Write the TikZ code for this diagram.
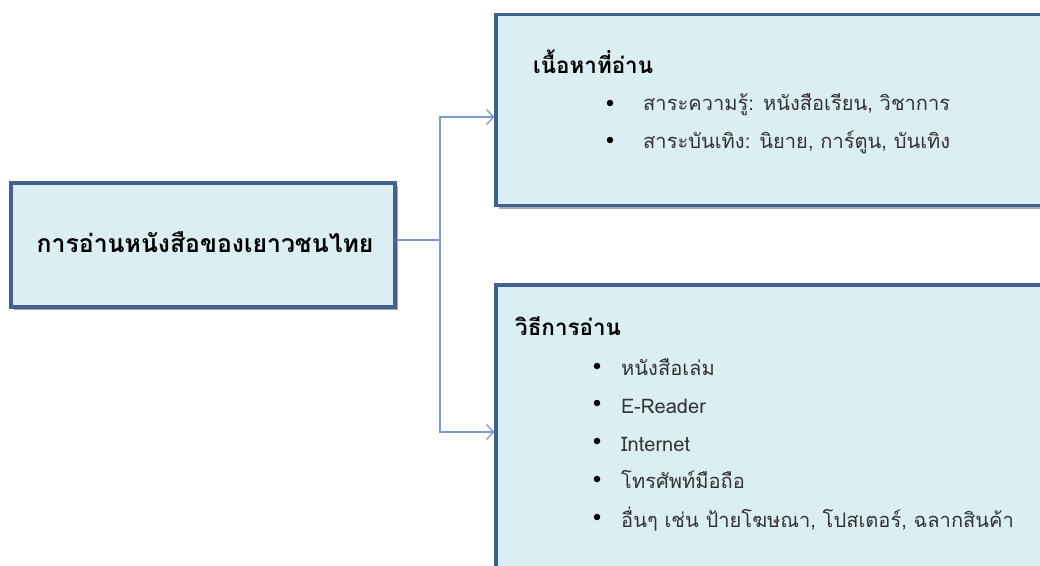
\documentclass[tikz,border=0pt]{standalone}
\usepackage{fontspec}
\setmainfont[Script=Thai]{Loma}
\usetikzlibrary{shadows,arrows.meta}
\definecolor{boxfill}{HTML}{DBEEF4}
\definecolor{boxline}{HTML}{41628F}
\definecolor{conncol}{HTML}{7A9CCB}
\definecolor{itemcol}{HTML}{333333}
\tikzset{
  panel/.style={draw=boxline, line width=3.2pt, fill=boxfill, rectangle, inner sep=0pt,
    drop shadow={shadow xshift=3pt, shadow yshift=-3pt, fill=black, opacity=0.35}},
  conn/.style={draw=conncol, line width=1.3pt},
  arr/.style={conn, -{Straight Barb[length=7pt,width=15pt,line width=1.3pt]}},
  head/.style={anchor=base west, font=\bfseries\fontsize{22.4}{26}\selectfont, text=black, inner sep=0pt},
  item/.style={anchor=base west, font=\fontsize{20.1}{24}\selectfont, text=itemcol, inner sep=0pt},
  bul/.style={circle, fill=black, inner sep=0pt, minimum size=6.5pt},
}
\begin{document}
\begin{tikzpicture}[x=1pt,y=-1pt]
\useasboundingbox (0,0) rectangle (1040,565);
\clip (0,0) rectangle (1040,565);
% boxes
\node[panel, minimum width=384pt, minimum height=124pt] (main) at (203,245) {};
\node[panel, minimum width=600pt, minimum height=191pt] (top) at (796,110) {};
\node[panel, minimum width=600pt, minimum height=300pt] (bot) at (796,435) {};
% main title
\node[font=\bfseries\fontsize{24.8}{28}\selectfont, anchor=base] (title) at (205,252) {การอ่านหนังสือของเยาวชนไทย};
% top content
\node[head] (h1) at (533,73) {เนื้อหาที่อ่าน};
\node[bul] (b11) at (610,103) {};
\node[item] (t11) at (643,110) {สาระความรู้: หนังสือเรียน, วิชาการ};
\node[bul] (b12) at (610,140) {};
\node[item] (t12) at (643,148) {สาระบันเทิง: นิยาย, การ์ตูน, บันเทิง};
% bottom content
\node[head] (h2) at (515,335) {วิธีการอ่าน};
\node[bul] (b21) at (597,366) {};
\node[item] (t21) at (621,375) {หนังสือเล่ม};
\node[bul] (b22) at (597,403) {};
\node[item] (t22) at (621,413) {E-Reader};
\node[bul] (b23) at (597,441) {};
\node[item] (t23) at (621,451) {Internet};
\node[bul] (b24) at (597,479) {};
\node[item] (t24) at (621,488) {โทรศัพท์มือถือ};
\node[bul] (b25) at (597,517) {};
\node[item] (t25) at (621,527) {อื่นๆ เช่น ป้ายโฆษณา, โปสเตอร์, ฉลากสินค้า};
% connectors
\coordinate (out) at (main.east |- 0,240);
\coordinate (jn) at (440,240);
\coordinate (in1) at (top.west |- 0,117);
\coordinate (in2) at (bot.west |- 0,432);
\draw[conn] (out) -- (jn);
\draw[arr] (jn) |- (in1);
\draw[arr] (jn) |- (in2);
\end{tikzpicture}
\end{document}
